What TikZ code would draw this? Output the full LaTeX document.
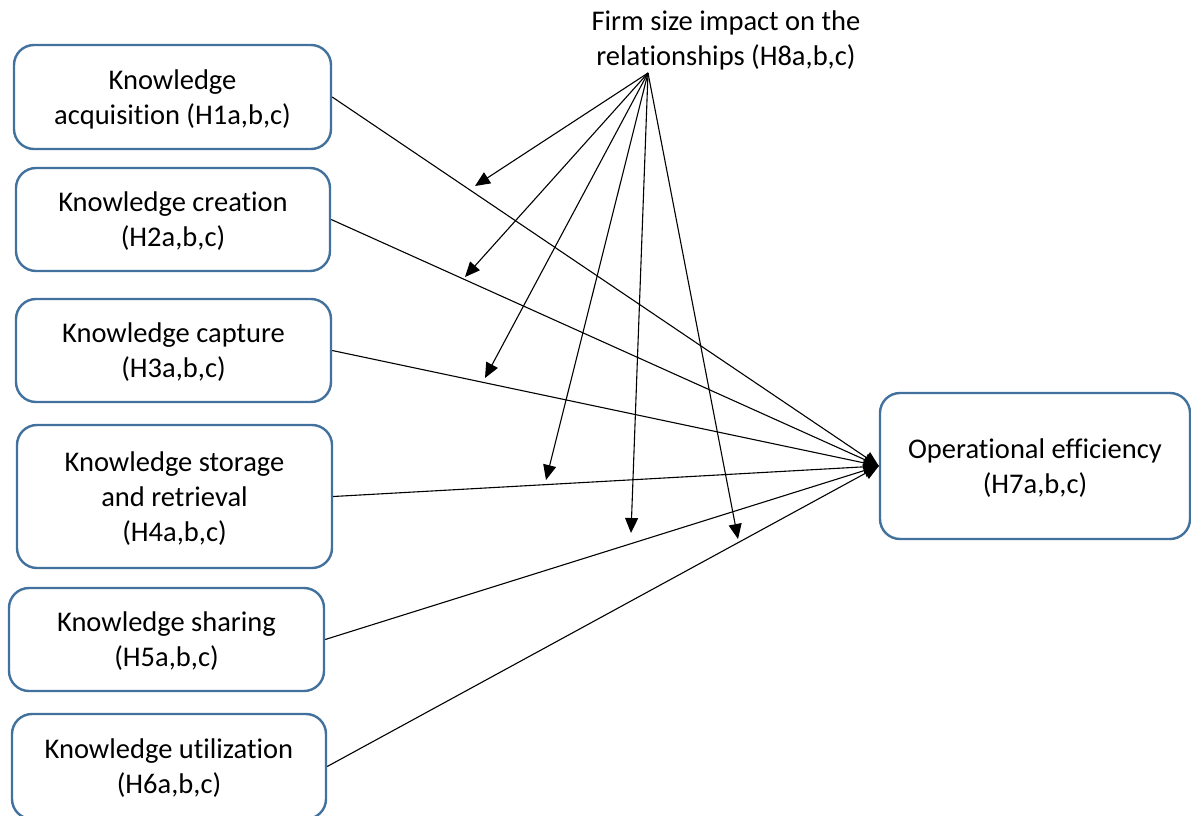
\documentclass[tikz,border=0pt]{standalone}
\usepackage{fontspec}
\setmainfont[RawFeature=-liga]{Carlito}
\usetikzlibrary{arrows.meta}
\definecolor{boxblue}{HTML}{41719C}
\begin{document}
\begin{tikzpicture}[x=1pt,y=-1pt,
  txt/.style={align=center, font=\fontsize{28.5}{35}\selectfont, inner sep=0pt},
  kbox/.style={txt, draw=boxblue, line width=2.4pt, rounded corners=20pt, text depth=0pt},
  conn/.style={line width=1.1pt, -{Triangle[length=15pt,width=13pt]}}]
\useasboundingbox (0,0) rectangle (1191,816);
\node[kbox, minimum width=317pt, minimum height=104pt] (k1) at (172.5,97) {Knowledge\\acquisition (H1a,b,c)};
\node[kbox, minimum width=314pt, minimum height=103pt] (k2) at (173,219.5) {Knowledge creation\\(H2a,b,c)};
\node[kbox, minimum width=315pt, minimum height=103pt] (k3) at (173.5,350.5) {Knowledge capture\\(H3a,b,c)};
\node[kbox, minimum width=315pt, minimum height=143pt] (k4) at (174.5,496.5) {Knowledge storage\\and retrieval\\(H4a,b,c)};
\node[kbox, minimum width=315pt, minimum height=103pt] (k5) at (166.5,639.5) {Knowledge sharing\\(H5a,b,c)};
\node[kbox, minimum width=314pt, minimum height=105pt] (k6) at (169,766.5) {Knowledge utilization\\(H6a,b,c)};
\node[kbox, minimum width=310pt, minimum height=146pt] (op) at (1035,466) {Operational efficiency\\(H7a,b,c)};
\node[txt] (fs) at (726,40) {Firm size impact on the\\relationships (H8a,b,c)};
\coordinate (src) at (648,73);
\coordinate (t1) at (475,186);
\coordinate (t2) at (465,277);
\coordinate (t3) at (485,378);
\coordinate (t4) at (546,480);
\coordinate (t5) at (631,533);
\coordinate (t6) at (738,539);
\foreach \k in {k1,k2,k3,k4,k5,k6}
  \draw[conn] (\k.east) -- (op.west);
\foreach \t in {t1,t2,t3,t4,t5,t6}
  \draw[conn] (src) -- (\t);
\end{tikzpicture}
\end{document}
